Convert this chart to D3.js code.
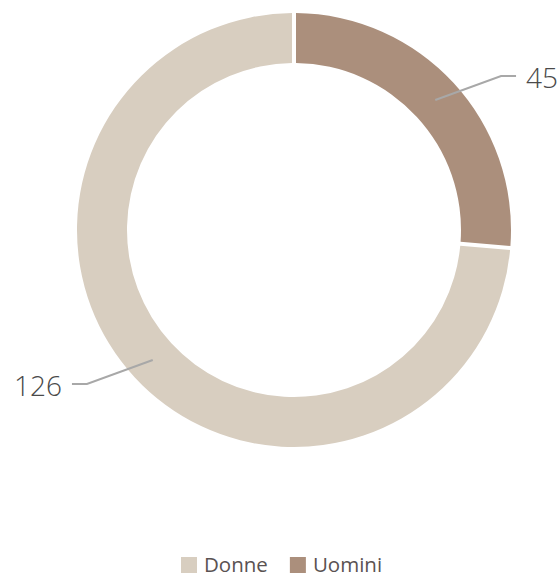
<!DOCTYPE html>
<html>
<head>
<meta charset="utf-8">
<script src="https://cdn.jsdelivr.net/npm/d3@7"></script>
<style>
  html, body { margin: 0; padding: 0; background: #fff; }
  svg { display: block; font-family: "Open Sans", Lato, sans-serif; }
</style>
</head>
<body>
<svg id="chart" width="560" height="578"></svg>
<script>
// Slices, in drawing order (clockwise from 12 o'clock)
const categories = ["Uomini", "Donne"];
const values = [45, 126];
const colors = ["#ab8f7c", "#d8cec0"];
// Legend order
const legendOrder = ["Donne", "Uomini"];

const width = 560, height = 578;
const cx = 294, cy = 230;
const outerR = 217, innerR = 167;
const gapPx = 4;

const svg = d3.select("#chart");
const data = categories.map((c, i) => ({ name: c, value: values[i], color: colors[i] }));

const pie = d3.pie().sort(null).value(d => d.value);
const arcs = pie(data);

const arc = d3.arc()
  .innerRadius(innerR)
  .outerRadius(outerR)
  .padRadius(outerR)
  .padAngle(gapPx / outerR);
const midArc = d3.arc().innerRadius((innerR + outerR) / 2).outerRadius((innerR + outerR) / 2);

const g = svg.append("g").attr("transform", `translate(${cx},${cy})`);

g.selectAll("path.slice")
  .data(arcs)
  .join("path")
  .attr("class", "slice")
  .attr("d", arc)
  .attr("fill", d => d.data.color);

// Connector lines and value labels
const labelR = 258, tail = 15, gap = 10;
arcs.forEach(a => {
  const mid = (a.startAngle + a.endAngle) / 2;
  const [x0, y0] = midArc.centroid(a);
  const ang = mid + 6 * Math.PI / 180;
  const x1 = labelR * Math.sin(ang), y1 = -labelR * Math.cos(ang);
  const side = Math.sin(mid) >= 0 ? 1 : -1;
  const x2 = x1 + side * tail;
  g.append("polyline")
    .attr("points", [[x0, y0], [x1, y1], [x2, y1]].map(p => p.join(",")).join(" "))
    .attr("fill", "none")
    .attr("stroke", "#a8a8a8")
    .attr("stroke-width", 2);
  g.append("text")
    .attr("x", x2 + side * gap)
    .attr("y", y1 + 2)
    .attr("dy", "0.36em")
    .attr("text-anchor", side > 0 ? "start" : "end")
    .attr("font-size", 28)
    .attr("font-weight", 300)
    .attr("fill", "#4a4a4a")
    .text(a.data.value);
});

// Legend
const legend = svg.append("g").attr("transform", `translate(0, 565)`);
let lx = 181;
legendOrder.forEach(name => {
  const i = categories.indexOf(name);
  const item = legend.append("g").attr("transform", `translate(${lx},0)`);
  item.append("rect")
    .attr("x", 0).attr("y", -8)
    .attr("width", 16).attr("height", 16)
    .attr("fill", colors[i]);
  const t = item.append("text")
    .attr("x", 23).attr("y", 0)
    .attr("dy", "0.36em")
    .attr("font-size", 20.5)
    .attr("fill", "#5a5252")
    .text(name);
  lx += 23 + t.node().getComputedTextLength() + 22;
});
</script>
</body>
</html>
